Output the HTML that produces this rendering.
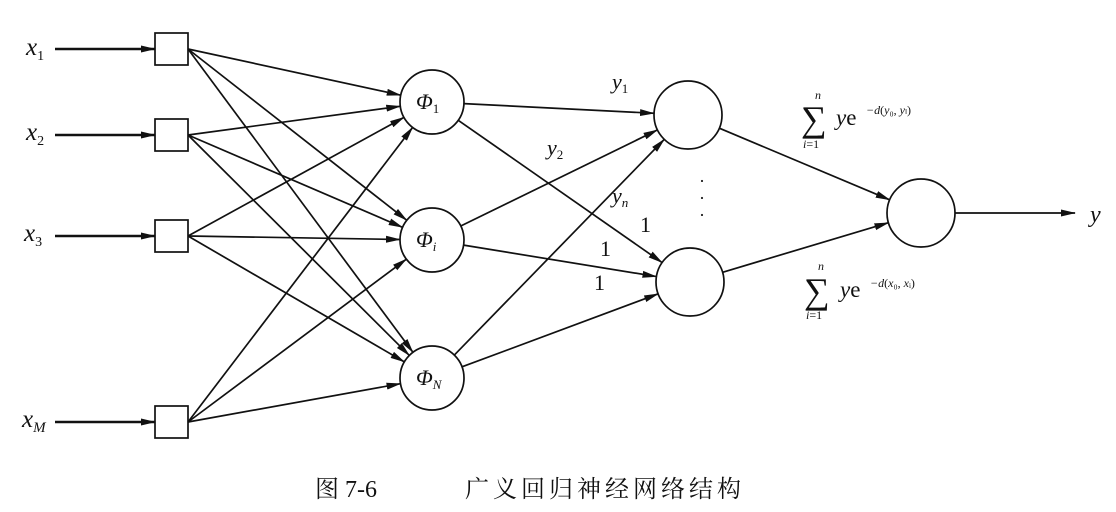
<!DOCTYPE html>
<html><head><meta charset="utf-8"><style>
html,body{margin:0;padding:0;background:#fff;}
svg{display:block}
text{font-family:"Liberation Serif","Noto Serif CJK SC",serif;fill:#111}
</style></head><body>
<svg id="s" width="1116" height="512" viewBox="0 0 1116 512" xmlns="http://www.w3.org/2000/svg">
<defs><marker id="a" markerWidth="15" markerHeight="8" refX="14" refY="4" orient="auto" markerUnits="userSpaceOnUse"><path d="M0,0.5 L15,4 L0,7.5 Z" fill="#111"/></marker></defs>
<g id="g" stroke="#111" stroke-width="1.7" fill="none"></g>
<g font-style="italic" font-size="25">
<text x="26" y="55">x<tspan font-size="14" dy="5" font-style="normal">1</tspan></text>
<text x="26" y="140">x<tspan font-size="14" dy="5" font-style="normal">2</tspan></text>
<text x="24" y="241">x<tspan font-size="14" dy="5" font-style="normal">3</tspan></text>
<text x="22" y="427">x<tspan font-size="15" dy="5">M</tspan></text>
<text x="416" y="109" font-size="22">Φ<tspan font-size="13" dy="4" font-style="normal">1</tspan></text>
<text x="416" y="247" font-size="22">Φ<tspan font-size="13" dy="4">i</tspan></text>
<text x="416" y="385" font-size="22">Φ<tspan font-size="13" dy="4">N</tspan></text>
<text x="612" y="89" font-size="22">y<tspan font-size="13" dy="4" font-style="normal">1</tspan></text>
<text x="547" y="155" font-size="22">y<tspan font-size="13" dy="4" font-style="normal">2</tspan></text>
<text x="612" y="203" font-size="22">y<tspan font-size="13" dy="4">n</tspan></text>
<text x="1090" y="222" font-size="24">y</text>
</g>
<g font-size="22">
<text x="640" y="232">1</text>
<text x="600" y="256">1</text>
<text x="594" y="290">1</text>
<text x="699" y="187" font-size="18">·</text>
<text x="699" y="204" font-size="18">·</text>
<text x="699" y="221" font-size="18">·</text>
</g>
<g>
<text x="815" y="99" font-size="12" font-style="italic">n</text>
<text x="801" y="131" font-size="36">∑</text>
<text x="803" y="148" font-size="12"><tspan font-style="italic">i</tspan>=1</text>
<text x="836" y="125" font-size="23"><tspan font-style="italic">y</tspan>e</text>
<text x="866" y="114" font-size="12"><tspan font-style="italic">−d</tspan>(<tspan font-style="italic">y</tspan>₀, <tspan font-style="italic">y</tspan>ₗ)</text>
<text x="818" y="270" font-size="12" font-style="italic">n</text>
<text x="804" y="303" font-size="36">∑</text>
<text x="806" y="319" font-size="12"><tspan font-style="italic">i</tspan>=1</text>
<text x="840" y="297" font-size="23"><tspan font-style="italic">y</tspan>e</text>
<text x="870" y="287" font-size="12"><tspan font-style="italic">−d</tspan>(<tspan font-style="italic">x</tspan>₀, <tspan font-style="italic">x</tspan>ᵢ)</text>
</g>
<text x="315" y="497" font-size="24" font-family="'Liberation Serif','Noto Serif CJK SC',serif">图 7-6</text>
<text x="465" y="497" font-size="24" letter-spacing="4" font-family="'Liberation Serif','Noto Serif CJK SC',serif">广义回归神经网络结构</text>
</svg>
<script>
var g=document.getElementById('g'),NS='http://www.w3.org/2000/svg';
function el(t,a){var e=document.createElementNS(NS,t);for(var k in a)e.setAttribute(k,a[k]);g.appendChild(e);return e;}
function ln(x1,y1,x2,y2,arr,w){var e=el('line',{x1:x1,y1:y1,x2:x2,y2:y2});if(arr)e.setAttribute('marker-end','url(#a)');if(w)e.setAttribute('stroke-width',w);}
var sq=[49,135,236,422];
var phi=[[432,102],[432,240],[432,378]],R=32;
var h=[[688,115,34],[690,282,34]];
var out=[921,213,34];
sq.forEach(function(y){el('rect',{x:155,y:y-16,width:33,height:32});ln(55,y,155,y,1,2.4);
 phi.forEach(function(p){var dx=p[0]-188,dy=p[1]-y,d=Math.hypot(dx,dy);ln(188,y,p[0]-dx/d*R,p[1]-dy/d*R,1);});});
phi.forEach(function(p){el('circle',{cx:p[0],cy:p[1],r:R});
 h.forEach(function(c){var dx=c[0]-p[0],dy=c[1]-p[1],d=Math.hypot(dx,dy);ln(p[0]+dx/d*R,p[1]+dy/d*R,c[0]-dx/d*c[2],c[1]-dy/d*c[2],1);});});
h.forEach(function(c){el('circle',{cx:c[0],cy:c[1],r:c[2]});var dx=out[0]-c[0],dy=out[1]-c[1],d=Math.hypot(dx,dy);ln(c[0]+dx/d*c[2],c[1]+dy/d*c[2],out[0]-dx/d*out[2],out[1]-dy/d*out[2],1);});
el('circle',{cx:out[0],cy:out[1],r:out[2]});
ln(955,213,1075,213,1);
</script>
</body></html>
